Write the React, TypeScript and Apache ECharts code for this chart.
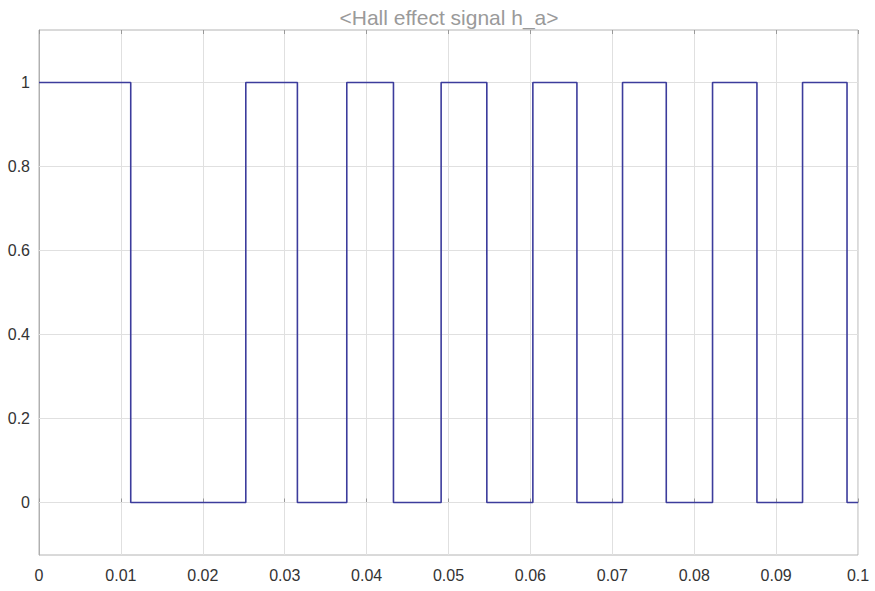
import React, { useEffect, useRef } from "react";
import * as echarts from "echarts";

const titleText = "<Hall effect signal h_a>";
const switchTimes = [0, 0.0112, 0.02525, 0.03155, 0.03758, 0.04328, 0.0491, 0.05468, 0.0603, 0.06568, 0.07125, 0.07659, 0.08224, 0.08766, 0.09323, 0.09866, 0.1];
const levels = [1, 0, 1, 0, 1, 0, 1, 0, 1, 0, 1, 0, 1, 0, 1, 0, 0];
const yTicks = [0, 0.2, 0.4, 0.6, 0.8, 1];
const xMin = 0;
const xMax = 0.1;
const xInterval = 0.01;
const yMin = -0.125;
const yMax = 1.125;

export default function App() {
  const ref = useRef<HTMLDivElement>(null);
  useEffect(() => {
    document.body.style.margin = "0";
    const chart = echarts.init(ref.current!, null, { renderer: "svg" });
    const data = switchTimes.map((t, i) => [t, levels[i]]);
    const fmtY = (v: number) => {
      const k = v / 0.2;
      if (Math.abs(k - Math.round(k)) > 1e-6) return "";
      if (v < -1e-9 || v > 1 + 1e-9) return "";
      const r = Math.round(k) * 0.2;
      if (Math.abs(r) < 1e-9) return "0";
      if (Math.abs(r - 1) < 1e-9) return "1";
      return r.toFixed(1);
    };
    chart.setOption({
      animation: false,
      backgroundColor: "#ffffff",
      title: {
        text: titleText,
        left: 444,
        top: 2,
        textAlign: "center",
        textStyle: { color: "#9a9a9a", fontSize: 21, fontWeight: "normal", fontFamily: "Liberation Sans, Arial, sans-serif" },
      },
      grid: { left: 39, right: 17, top: 30, bottom: 36, show: true, borderColor: "#b4b4b4", borderWidth: 1 },
      xAxis: [
        {
          type: "value",
          min: xMin,
          max: xMax,
          interval: xInterval,
          axisLine: { show: true, lineStyle: { color: "#b0b0b0" } },
          axisTick: { show: true, inside: true, length: 4, lineStyle: { color: "#999" } },
          axisLabel: { color: "#333", fontSize: 16, margin: 12, fontFamily: "Liberation Sans, Arial, sans-serif" },
          splitLine: { show: true, lineStyle: { color: "#e0e0e0", width: 1 } },
        },
        {
          type: "value",
          position: "top",
          min: xMin,
          max: xMax,
          interval: xInterval,
          axisLine: { show: false },
          axisTick: { show: true, inside: true, length: 4, lineStyle: { color: "#999" } },
          axisLabel: { show: false },
          splitLine: { show: false },
        },
      ],
      yAxis: {
        type: "value",
        min: yMin,
        max: yMax,
        interval: 0.025,
        axisLine: { show: true, lineStyle: { color: "#b0b0b0" } },
        axisTick: { show: false },
        axisLabel: { color: "#333", fontSize: 16, margin: 9, formatter: fmtY, fontFamily: "Liberation Sans, Arial, sans-serif" },
        splitLine: { show: false },
      },
      series: [
        {
          type: "line",
          xAxisIndex: 0,
          step: "end",
          data,
          showSymbol: false,
          lineStyle: { color: "#3c3c9c", width: 1.6 },
          silent: true,
          z: 5,
          markLine: {
            silent: true,
            symbol: "none",
            label: { show: false },
            lineStyle: { color: "#e0e0e0", width: 1, type: "solid" },
            z: 1,
            data: yTicks.map((v) => ({ yAxis: v })),
          },
        },
      ],
    });
    return () => chart.dispose();
  }, []);
  return <div ref={ref} style={{ width: 875, height: 591 }} />;
}
